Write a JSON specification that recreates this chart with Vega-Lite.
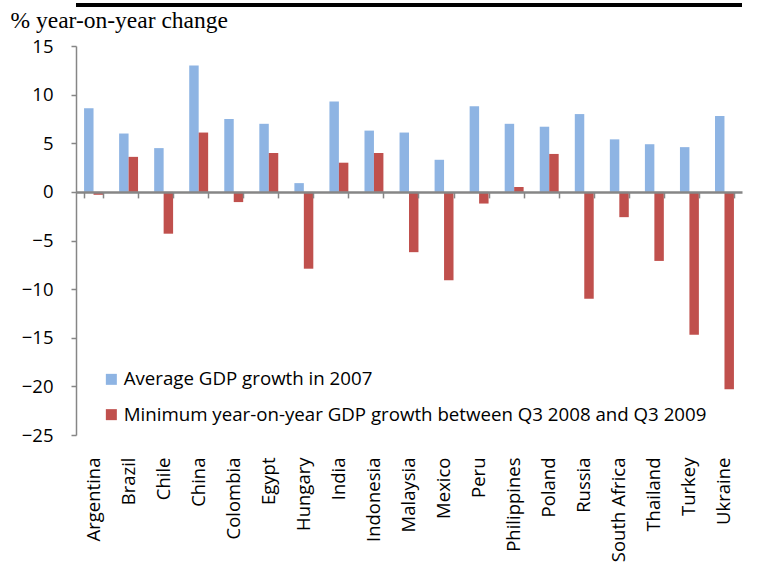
{
  "$schema": "https://vega.github.io/schema/vega-lite/v6.json",
  "autosize": "none",
  "width": 666,
  "height": 389,
  "padding": {"left": 76, "top": 46, "right": 31, "bottom": 127},
  "background": "white",
  "config": {"view": {"stroke": null}, "font": "Open Sans"},
  "data": {
    "values": [
      {"country": "Argentina", "series": "Average GDP growth in 2007", "value": 8.6},
      {"country": "Argentina", "series": "Minimum year-on-year GDP growth between Q3 2008 and Q3 2009", "value": -0.3},
      {"country": "Brazil", "series": "Average GDP growth in 2007", "value": 6.0},
      {"country": "Brazil", "series": "Minimum year-on-year GDP growth between Q3 2008 and Q3 2009", "value": 3.6},
      {"country": "Chile", "series": "Average GDP growth in 2007", "value": 4.5},
      {"country": "Chile", "series": "Minimum year-on-year GDP growth between Q3 2008 and Q3 2009", "value": -4.3},
      {"country": "China", "series": "Average GDP growth in 2007", "value": 13.0},
      {"country": "China", "series": "Minimum year-on-year GDP growth between Q3 2008 and Q3 2009", "value": 6.1},
      {"country": "Colombia", "series": "Average GDP growth in 2007", "value": 7.5},
      {"country": "Colombia", "series": "Minimum year-on-year GDP growth between Q3 2008 and Q3 2009", "value": -1.05},
      {"country": "Egypt", "series": "Average GDP growth in 2007", "value": 7.0},
      {"country": "Egypt", "series": "Minimum year-on-year GDP growth between Q3 2008 and Q3 2009", "value": 4.0},
      {"country": "Hungary", "series": "Average GDP growth in 2007", "value": 0.9},
      {"country": "Hungary", "series": "Minimum year-on-year GDP growth between Q3 2008 and Q3 2009", "value": -7.9},
      {"country": "India", "series": "Average GDP growth in 2007", "value": 9.3},
      {"country": "India", "series": "Minimum year-on-year GDP growth between Q3 2008 and Q3 2009", "value": 3.0},
      {"country": "Indonesia", "series": "Average GDP growth in 2007", "value": 6.3},
      {"country": "Indonesia", "series": "Minimum year-on-year GDP growth between Q3 2008 and Q3 2009", "value": 4.0},
      {"country": "Malaysia", "series": "Average GDP growth in 2007", "value": 6.1},
      {"country": "Malaysia", "series": "Minimum year-on-year GDP growth between Q3 2008 and Q3 2009", "value": -6.2},
      {"country": "Mexico", "series": "Average GDP growth in 2007", "value": 3.3},
      {"country": "Mexico", "series": "Minimum year-on-year GDP growth between Q3 2008 and Q3 2009", "value": -9.1},
      {"country": "Peru", "series": "Average GDP growth in 2007", "value": 8.8},
      {"country": "Peru", "series": "Minimum year-on-year GDP growth between Q3 2008 and Q3 2009", "value": -1.2},
      {"country": "Philippines", "series": "Average GDP growth in 2007", "value": 7.0},
      {"country": "Philippines", "series": "Minimum year-on-year GDP growth between Q3 2008 and Q3 2009", "value": 0.5},
      {"country": "Poland", "series": "Average GDP growth in 2007", "value": 6.7},
      {"country": "Poland", "series": "Minimum year-on-year GDP growth between Q3 2008 and Q3 2009", "value": 3.9},
      {"country": "Russia", "series": "Average GDP growth in 2007", "value": 8.0},
      {"country": "Russia", "series": "Minimum year-on-year GDP growth between Q3 2008 and Q3 2009", "value": -11.0},
      {"country": "South Africa", "series": "Average GDP growth in 2007", "value": 5.4},
      {"country": "South Africa", "series": "Minimum year-on-year GDP growth between Q3 2008 and Q3 2009", "value": -2.6},
      {"country": "Thailand", "series": "Average GDP growth in 2007", "value": 4.9},
      {"country": "Thailand", "series": "Minimum year-on-year GDP growth between Q3 2008 and Q3 2009", "value": -7.1},
      {"country": "Turkey", "series": "Average GDP growth in 2007", "value": 4.6},
      {"country": "Turkey", "series": "Minimum year-on-year GDP growth between Q3 2008 and Q3 2009", "value": -14.7},
      {"country": "Ukraine", "series": "Average GDP growth in 2007", "value": 7.8},
      {"country": "Ukraine", "series": "Minimum year-on-year GDP growth between Q3 2008 and Q3 2009", "value": -20.3}
    ]
  },
  "resolve": {"axis": {"x": "independent"}},
  "layer": [
    {
      "mark": {"type": "bar", "opacity": 0},
      "encoding": {
        "x": {
          "field": "country", "type": "nominal", "sort": null,
          "scale": {"paddingInner": 0.46, "paddingOuter": 0.23},
          "axis": {
            "orient": "bottom", "title": null, "labelAngle": -90, "labelAlign": "right",
            "labelBaseline": "middle", "labelPadding": 22, "ticks": false, "domain": false,
            "labelFontSize": 18.5, "labelFont": "Open Sans", "labelColor": "black"
          }
        },
        "y": {
          "field": "value", "type": "quantitative",
          "scale": {"domain": [-25, 15], "nice": false, "zero": false},
          "axis": {
            "title": "% year-on-year change", "titleAngle": 0, "titleAlign": "left",
            "titleBaseline": "alphabetic", "titleX": -66, "titleY": -19,
            "titleFont": "Liberation Serif", "titleFontSize": 23.5, "titleFontWeight": "normal", "titleColor": "black",
            "values": [-25, -20, -15, -10, -5, 0, 5, 10, 15],
            "grid": false, "tickSize": 5, "tickColor": "#868686", "tickWidth": 1.5,
            "domainColor": "#868686", "domainWidth": 1.5,
            "labelFontSize": 18.5, "labelFont": "Open Sans", "labelPadding": 18, "labelColor": "black"
          }
        }
      }
    },
    {
      "mark": {"type": "bar"},
      "encoding": {
        "x": {
          "field": "country", "type": "nominal", "sort": null,
          "scale": {"paddingInner": 0.46, "paddingOuter": 0.23},
          "axis": {
            "orient": "bottom", "offset": -243.1, "title": null, "labels": false,
            "domain": true, "domainColor": "#868686", "domainWidth": 2.5,
            "ticks": true, "tickBand": "extent", "tickSize": 6, "tickColor": "#868686", "tickWidth": 1.5,
            "zindex": 1
          }
        },
        "xOffset": {"field": "series", "sort": null, "scale": {"paddingInner": 0, "paddingOuter": 0}},
        "y": {
          "field": "value", "type": "quantitative",
          "scale": {"domain": [-25, 15], "nice": false, "zero": false},
          "axis": {
            "title": "% year-on-year change", "titleAngle": 0, "titleAlign": "left",
            "titleBaseline": "alphabetic", "titleX": -66, "titleY": -19,
            "titleFont": "Liberation Serif", "titleFontSize": 23.5, "titleFontWeight": "normal", "titleColor": "black",
            "values": [-25, -20, -15, -10, -5, 0, 5, 10, 15],
            "grid": false, "tickSize": 5, "tickColor": "#868686", "tickWidth": 1.5,
            "domainColor": "#868686", "domainWidth": 1.5,
            "labelFontSize": 18.5, "labelFont": "Open Sans", "labelPadding": 18, "labelColor": "black"
          }
        },
        "color": {
          "field": "series", "type": "nominal",
          "scale": {
            "domain": ["Average GDP growth in 2007", "Minimum year-on-year GDP growth between Q3 2008 and Q3 2009"],
            "range": ["#8EB4E3", "#C0504D"]
          },
          "legend": {
            "orient": "none", "legendX": 26, "legendY": 324, "title": null,
            "symbolType": "square", "symbolSize": 121, "symbolStrokeWidth": 0,
            "labelFontSize": 18.7, "labelFont": "Open Sans", "labelColor": "black",
            "rowPadding": 15.3, "labelOffset": 3, "padding": 0, "labelLimit": 700
          }
        }
      }
    },
    {
      "mark": {"type": "rule", "color": "black", "strokeWidth": 3, "clip": false},
      "encoding": {"y": {"datum": 19.2}}
    }
  ]
}
